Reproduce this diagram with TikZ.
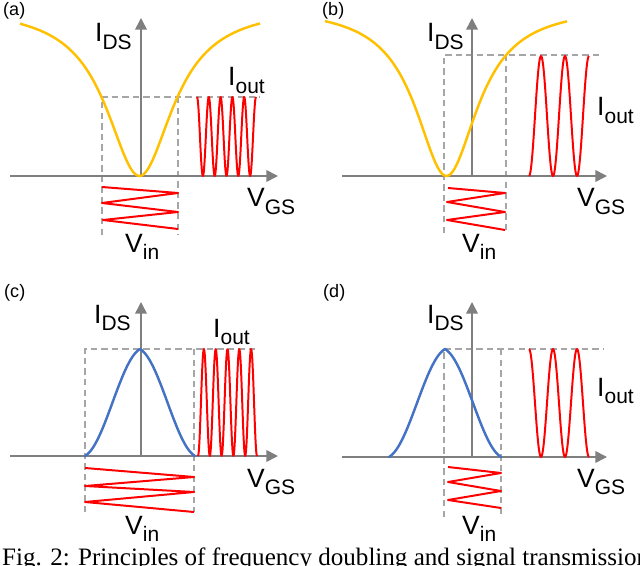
\documentclass[tikz,border=0pt]{standalone}
\usepackage{fontspec}
\setmainfont{Liberation Serif}
\newfontfamily\arialfont{Liberation Sans}
\usepackage{tikz}
\usetikzlibrary{arrows.meta}

\definecolor{curvegold}{HTML}{FFC000}
\definecolor{curveblue}{HTML}{4472C4}
\definecolor{axisgray}{HTML}{7F7F7F}
\definecolor{dashgray}{HTML}{A6A6A6}

\tikzstyle{axis} = [
    draw=axisgray,
    line width=1.4pt,
    -{Triangle[length=10pt,width=10pt]}
]
\tikzstyle{guide} = [
    draw=dashgray,
    line width=1.1pt,
    dash pattern=on 5.5pt off 3.5pt
]
\tikzstyle{goldcurve} = [draw=curvegold, line width=2.1pt]
\tikzstyle{bluecurve} = [draw=curveblue, line width=2.1pt, line cap=round, line join=round]
\tikzstyle{signal} = [draw=red, line width=1.7pt, line join=round]
\tikzstyle{quantity} = [
    inner sep=0pt, anchor=base west,
    font=\arialfont\fontsize{22.6}{24}\selectfont
]
\tikzstyle{panel} = [
    inner sep=0pt, anchor=base west,
    font=\arialfont\fontsize{15.4}{17}\selectfont
]
\tikzstyle{caption} = [
    inner sep=0pt, anchor=base west,
    font=\fontsize{21.4}{24}\selectfont
]

\newcommand{\symsub}[2]{#1\raisebox{-6.4pt}{\fontsize{17.9}{19}\selectfont #2}}

\begin{document}
\begin{tikzpicture}[
        x=0.03cm, y=-0.03cm,
        declare function={
            dip(\u)=170*\u*\u/(1+\u*\u);
            bell(\u)=0.7*(1+cos(180*\u))/2+0.3*(1-abs(\u));
        }
    ]
    \useasboundingbox (0,0) rectangle (640,566);

    % (a)
    \node[panel] (lbla) at (3,16) {(a)};
    \draw[guide] (102,235) -- (102,97) -- (260,97);
    \draw[guide] (178,97) -- (178,235);
    \draw[axis] (10,176) -- (278,176);
    \draw[axis] (141,176) -- (141,18);
    \draw[goldcurve] plot[domain=20:260, samples=120]
        (\x, {176-dip((\x-139.5)/40.8)});
    \draw[signal] (102,187) -- (178,193) -- (102,203) -- (178,212) -- (103,220) -- (178,229);
    \draw[signal] plot[domain=197:256, samples=150]
        (\x, {136.5-39.5*cos(360*((\x-197)/11.8))});
    \node[quantity] (idsa) at (95,42) {\symsub{I}{DS}};
    \node[quantity] (iouta) at (228,86) {\symsub{I}{out}};
    \node[quantity] (vgsa) at (247,207) {\symsub{V}{GS}};
    \node[quantity] (vina) at (125,252) {\symsub{V}{in}};

    % (b)
    \node[panel] (lblb) at (322,16) {(b)};
    \draw[guide] (444,233) -- (444,55) -- (603,55);
    \draw[guide] (506,55) -- (506,233);
    \draw[axis] (342,176) -- (607,176);
    \draw[axis] (472,176) -- (472,18);
    \draw[goldcurve] plot[domain=325:567, samples=120]
        (\x, {176-dip((\x-446.5)/38)});
    \draw[signal] (448,188) -- (505,193) -- (447,202) -- (505,212) -- (447,220) -- (505,230);
    \draw[signal] plot[domain=529:589, samples=120]
        (\x, {116+60*cos(360*((\x-529)/24))});
    \node[quantity] (idsb) at (427,42) {\symsub{I}{DS}};
    \node[quantity] (ioutb) at (597,116) {\symsub{I}{out}};
    \node[quantity] (vgsb) at (577,207) {\symsub{V}{GS}};
    \node[quantity] (vinb) at (462,252) {\symsub{V}{in}};

    % (c)
    \node[panel] (lblc) at (4,297) {(c)};
    \draw[guide] (85,512) -- (85,349) -- (257,349);
    \draw[guide] (194,349) -- (194,512);
    \draw[axis] (10,456) -- (278,456);
    \draw[axis] (141,456) -- (141,302);
    \draw[bluecurve] plot[domain=85:195, samples=111]
        (\x, {456-107*bell((\x-140)/55)});
    \draw[signal] (85,468) -- (194,477) -- (85,486) -- (194,492) -- (85,502) -- (194,512);
    \draw[signal] plot[domain=198:257, samples=150]
        (\x, {402.5+53.5*cos(360*((\x-198)/11.8))});
    \node[quantity] (idsc) at (94,323) {\symsub{I}{DS}};
    \node[quantity] (ioutc) at (213,337) {\symsub{I}{out}};
    \node[quantity] (vgsc) at (247,487) {\symsub{V}{GS}};
    \node[quantity] (vinc) at (125,534) {\symsub{V}{in}};

    % (d)
    \node[panel] (lbld) at (323,297) {(d)};
    \draw[guide] (444,517) -- (444,349) -- (603,349);
    \draw[guide] (501,349) -- (501,517);
    \draw[axis] (342,457) -- (607,457);
    \draw[axis] (472,457) -- (472,302);
    \draw[bluecurve] plot[domain=389:501, samples=113]
        (\x, {457-108*bell((\x-445)/56)});
    \draw[signal] (448,467) -- (501,473) -- (448,482) -- (501,491) -- (448,500) -- (501,508);
    \draw[signal] plot[domain=529:589, samples=120]
        (\x, {403-54*cos(360*((\x-529)/24))});
    \node[quantity] (idsd) at (427,323) {\symsub{I}{DS}};
    \node[quantity] (ioutd) at (597,396) {\symsub{I}{out}};
    \node[quantity] (vgsd) at (577,487) {\symsub{V}{GS}};
    \node[quantity] (vind) at (462,534) {\symsub{V}{in}};

    \node[caption] (cap) at (2,565) {Fig. 2: Principles of frequency doubling and signal transmission};
\end{tikzpicture}
\end{document}
